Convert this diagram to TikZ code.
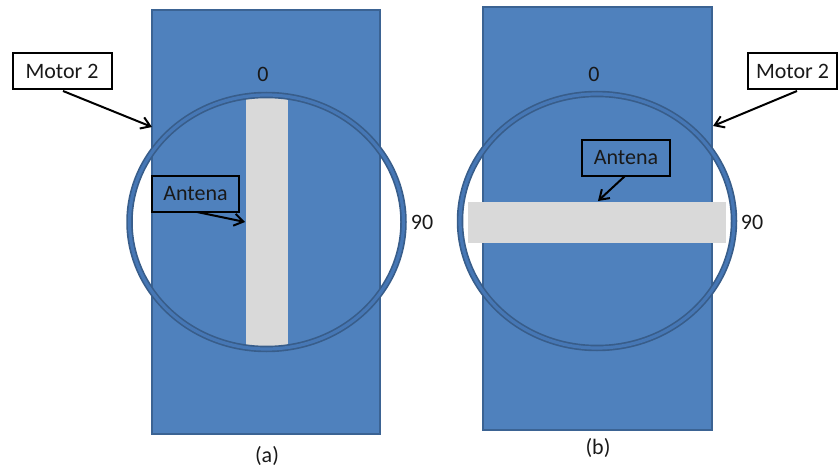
\documentclass[tikz,border=0pt]{standalone}
\usepackage{fontspec}
\setmainfont{Carlito}
\usetikzlibrary{arrows.meta}
\definecolor{plate}{HTML}{4F81BD}
\definecolor{plateedge}{HTML}{3B6393}
\definecolor{ringdark}{HTML}{385D8A}
\definecolor{ringmid}{HTML}{4677B5}
\definecolor{antgray}{HTML}{D9D9D9}
\tikzset{
  plate/.style={fill=plate, draw=plateedge, line width=1.6pt},
  callout/.style={draw=black, line width=2pt, inner sep=0pt, minimum height=36pt,
    font=\fontsize{22}{24}\selectfont, text=black!90},
  pointer/.style={draw=black, line width=2pt, -{Straight Barb[length=9pt,width=12pt,line width=2pt]}},
  angle/.style={font=\fontsize{22}{24}\selectfont, text=black!90},
}
\newcommand{\motorring}[3]{%
  \draw[ringdark, line width=6.5pt] (#1,#2) ellipse [x radius=#3, y radius=127];
  \draw[ringmid, line width=3.2pt] (#1,#2) ellipse [x radius=#3, y radius=127];
}
\begin{document}
\begin{tikzpicture}[x=1pt,y=-1pt]
  \useasboundingbox (0,0) rectangle (838,468);

  % ---- panel (a): antenna vertical ----
  \draw[plate] (152,10) rectangle (380,434);
  \fill[antgray] (246,97) rectangle (288,346);
  \motorring{266.5}{222}{137}
  \node[angle] (zeroA) at (263,74) {0};
  \node[angle] (ninetyA) at (422,222) {90};
  \node[angle] (capA) at (267,456) {(a)};

  \node[callout, fill=white, minimum width=99pt] (motorA) at (62,71.5) {Motor 2};
  \coordinate (motorAtip) at (152,127);
  \draw[pointer] (63,91) -- (motorAtip);

  \node[callout, minimum width=87pt] (antA) at (195.5,194) {Antena};
  \coordinate (antAtip) at (245,222);
  \draw[pointer] (197,212) -- (antAtip);

  % ---- panel (b): antenna horizontal ----
  \draw[plate] (483,7) rectangle (712,430);
  \motorring{597}{221}{137}
  \fill[antgray] (468,202) rectangle (726,243);
  \node[angle] (zeroB) at (594,74) {0};
  \node[angle] (ninetyB) at (752,222) {90};
  \node[angle] (capB) at (598,448) {(b)};

  \node[callout, fill=white, minimum width=89pt] (motorB) at (792.5,71.5) {Motor 2};
  \coordinate (motorBtip) at (713,126);
  \draw[pointer] (797,91) -- (motorBtip);

  \node[callout, minimum width=88pt] (antB) at (626,158) {Antena};
  \coordinate (antBtip) at (598,201);
  \draw[pointer] (625,176) -- (antBtip);
\end{tikzpicture}
\end{document}
